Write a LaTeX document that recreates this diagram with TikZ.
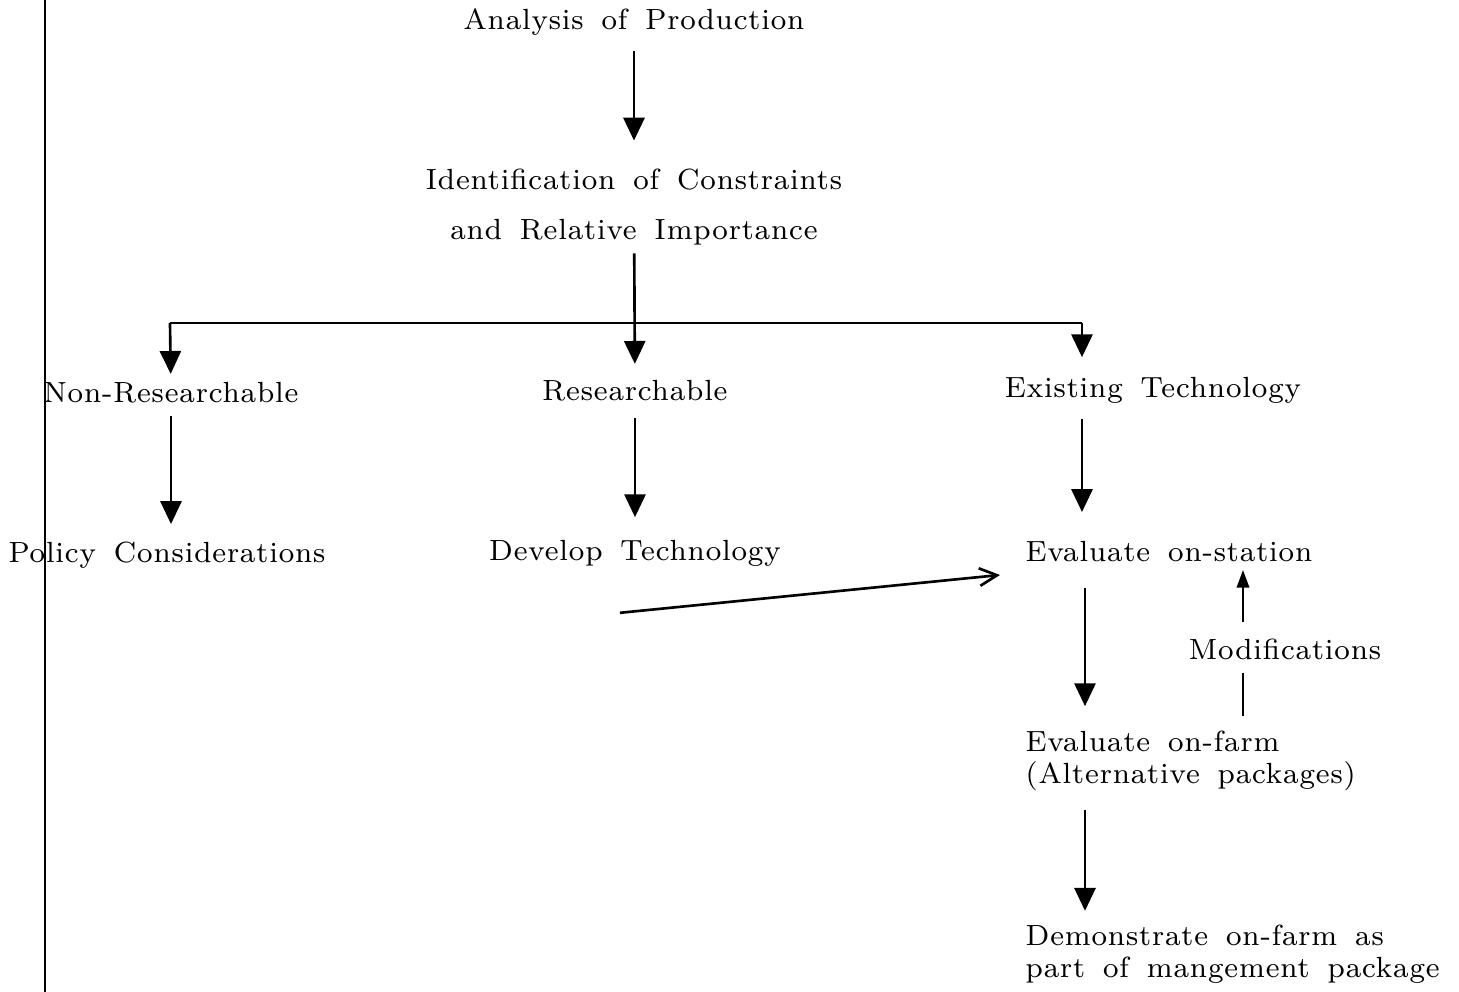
\documentclass[tikz,border=0pt]{standalone}
\usepackage{fontspec}
\setmainfont{Latin Modern Roman}[LetterSpace=3,WordSpace=1.6]
\usetikzlibrary{arrows.meta}

\begin{document}
\begin{tikzpicture}[x=0.01cm, y=-0.01cm,
        lbl/.style={inner sep=0pt, font=\fontsize{8.3}{9.2}\selectfont},
        flow/.style={line width=0.75pt, -{Triangle[width=6pt,length=6.5pt]}},
        feedback/.style={line width=0.7pt, -{Triangle[width=3.5pt,length=5pt]}},
        slant/.style={line width=0.75pt, -{Straight Barb[width=5pt,length=5pt]}},
        link/.style={line width=0.75pt}]
        \useasboundingbox (0,0) rectangle (1459,992);
        \draw[line width=0.6pt] (45,0) -- (45,992);
        % nodes
        \node[lbl] (ana) at (634,22) {Analysis of Production};
        \node[lbl, align=center] (ident) at (634,207) {Identification of Constraints\\[4.8pt] and Relative Importance};
        \node[lbl] (nonres) at (171,393) {Non-Researchable};
        \node[lbl] (res) at (635,391) {Researchable};
        \node[lbl] (exist) at (1153,390) {Existing Technology};
        \node[lbl] (policy) at (167,555) {Policy Considerations};
        \node[lbl] (dev) at (635,553) {Develop Technology};
        \node[lbl, anchor=west] (evst) at (1025,552) {Evaluate on-station};
        \node[lbl, anchor=west, align=left] (evfarm) at (1025,761) {Evaluate on-farm\\(Alternative packages)};
        \node[lbl, anchor=west, align=left] (demo) at (1025,954) {Demonstrate on-farm as\\part of mangement package};
        \node[lbl] (mod) at (1285,649) {Modifications};
        % helper points
        \coordinate (barL) at (170,323);
        \coordinate (barR) at (1082,323);
        \coordinate (colE) at (1085,0);
        \coordinate (colM) at (1243,0);
        \coordinate (devout) at ([shift={(-15,46)}]dev.south);
        \coordinate (devin) at ([shift={(-25,23)}]evst.west);
        % connectors
        \draw[flow, shorten <=1.5mm, shorten >=2.8mm] (ana) -- (ident);
        \draw[flow, shorten <=0.8mm, shorten >=1.6mm] (ident) -- (res);
        \draw[link] (barL) -- (barR);
        \draw[flow, shorten >=0.8mm] (barL) -- (nonres);
        \draw[flow, shorten >=1.9mm] (barR) -- (barR |- exist.north);
        \draw[flow, shorten <=1.2mm, shorten >=1.7mm] (nonres.south) -- (nonres.south |- policy.north);
        \draw[flow, shorten <=1.6mm, shorten >=2.2mm] (res) -- (dev);
        \draw[flow, shorten <=1.5mm, shorten >=2.9mm] (barR |- exist.south) -- (barR |- evst.north);
        \draw[slant] (devout) -- (devin);
        \draw[flow, shorten <=2.5mm, shorten >=2.4mm] (colE |- evst.south) -- (colE |- evfarm.north);
        \draw[flow, shorten <=1.8mm, shorten >=1.3mm] (colE |- evfarm.south) -- (colE |- demo.north);
        \draw[feedback, shorten <=1.6mm, shorten >=0.7mm] (colM |- mod.north) -- (colM |- evst.south);
        \draw[link, shorten <=1.3mm, shorten >=1.4mm] (colM |- mod.south) -- (colM |- evfarm.north);
\end{tikzpicture}
\end{document}
